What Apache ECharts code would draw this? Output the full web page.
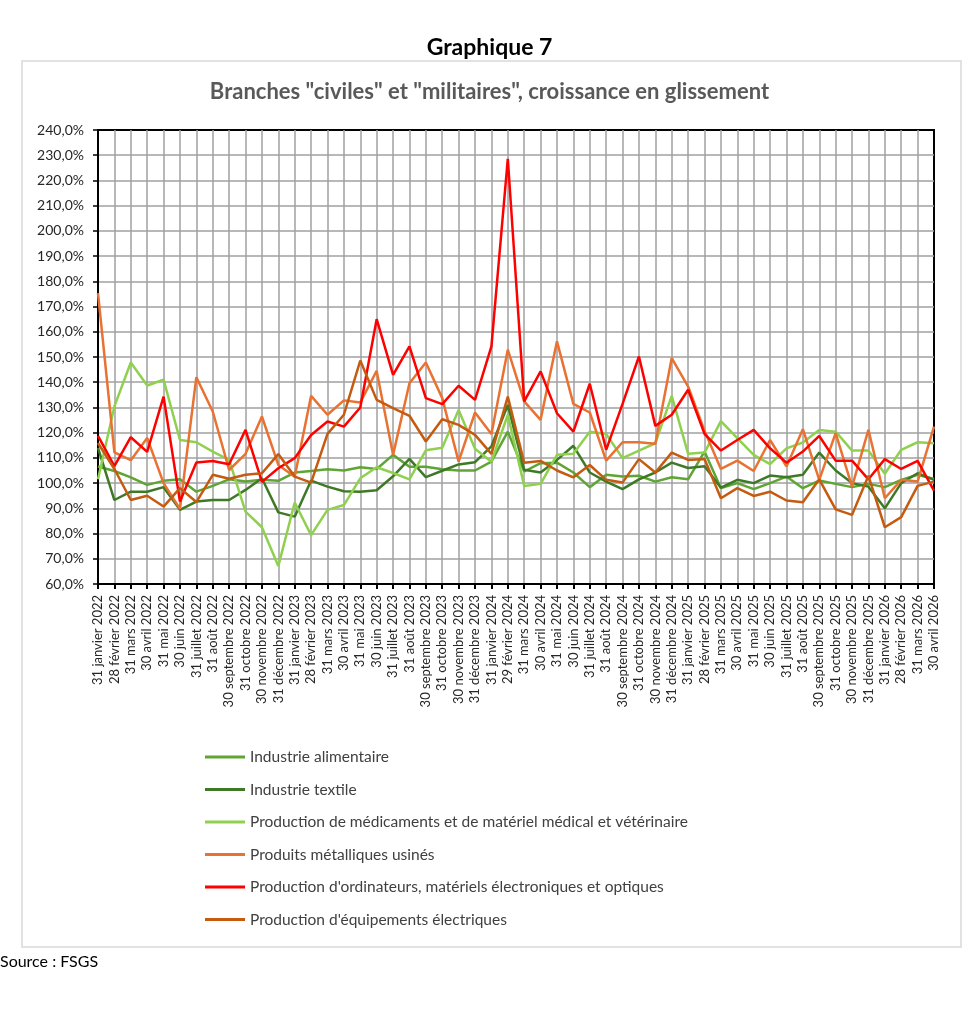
<!DOCTYPE html>
<html>
<head>
<meta charset="utf-8">
<title>Graphique 7</title>
<script src="https://cdn.jsdelivr.net/npm/echarts@6/dist/echarts.min.js"></script>
<style>
  html, body { margin: 0; padding: 0; background: #fff; }
  #chart { width: 979px; height: 1035px; }
</style>
</head>
<body>
<div id="chart"></div>
<script>
// monthly points, Jan 2022 -> Apr 2026
const categories = [
  '31 janvier 2022', '28 février 2022', '31 mars 2022', '30 avril 2022', '31 mai 2022', '30 juin 2022',
  '31 juillet 2022', '31 août 2022', '30 septembre 2022', '31 octobre 2022', '30 novembre 2022', '31 décembre 2022',
  '31 janvier 2023', '28 février 2023', '31 mars 2023', '30 avril 2023', '31 mai 2023', '30 juin 2023',
  '31 juillet 2023', '31 août 2023', '30 septembre 2023', '31 octobre 2023', '30 novembre 2023', '31 décembre 2023',
  '31 janvier 2024', '29 février 2024', '31 mars 2024', '30 avril 2024', '31 mai 2024', '30 juin 2024',
  '31 juillet 2024', '31 août 2024', '30 septembre 2024', '31 octobre 2024', '30 novembre 2024', '31 décembre 2024',
  '31 janvier 2025', '28 février 2025', '31 mars 2025', '30 avril 2025', '31 mai 2025', '30 juin 2025',
  '31 juillet 2025', '31 août 2025', '30 septembre 2025', '31 octobre 2025', '30 novembre 2025', '31 décembre 2025',
  '31 janvier 2026', '28 février 2026', '31 mars 2026', '30 avril 2026'
];

// values in %
const alimentaire = [
  106.6, 104.8, 102.3, 99.3, 100.9, 101.5, 96.6, 98.9, 101.5, 100.6, 101.3, 100.9,
  104.2, 104.8, 105.5, 105.0, 106.3, 105.6, 111.2, 106.5, 106.5, 105.5, 105.0, 105.0,
  108.5, 120.4, 104.6, 107.9, 108.1, 104.2, 98.4, 103.3, 102.6, 102.9, 100.6, 102.3,
  101.5, 112.5, 98.0, 100.0, 97.6, 100.0, 102.6, 98.0, 101.0, 99.7, 98.4, 99.7,
  98.4, 101.3, 103.3, 101.6
];
const textile = [
  114.0, 93.3, 96.6, 96.6, 98.4, 89.4, 92.7, 93.3, 93.3, 97.3, 101.9, 88.4,
  86.7, 101.0, 98.6, 96.8, 96.6, 97.2, 102.7, 109.6, 102.4, 104.9, 107.4, 108.3,
  114.6, 131.0, 105.3, 104.2, 109.2, 114.8, 104.2, 100.6, 97.6, 101.5, 104.2, 108.1,
  106.0, 106.7, 98.2, 101.3, 100.0, 103.0, 102.3, 103.3, 112.1, 105.0, 100.0, 98.6,
  90.0, 100.0, 103.9, 101.3
];
const medicaments = [
  101.5, 130.4, 147.8, 138.7, 141.0, 117.1, 116.2, 112.5, 109.2, 88.7, 82.5, 67.1,
  92.3, 79.4, 89.4, 91.3, 101.9, 106.3, 104.0, 101.5, 113.0, 114.0, 129.0, 113.6,
  108.5, 127.1, 98.9, 99.7, 111.2, 111.6, 120.4, 119.5, 109.9, 112.9, 115.8, 134.6,
  111.6, 112.1, 124.6, 117.8, 111.2, 107.5, 113.8, 116.1, 121.1, 120.4, 112.9, 112.9,
  103.7, 113.2, 116.2, 115.8
];
const metalliques = [
  175.3, 112.2, 109.1, 117.9, 100.0, 89.8, 142.0, 128.4, 105.2, 111.6, 126.4, 107.2,
  102.5, 134.6, 127.1, 132.8, 132.0, 144.5, 111.2, 139.6, 147.8, 133.7, 108.5, 128.0,
  119.5, 152.9, 132.4, 125.1, 156.2, 131.4, 128.0, 108.9, 116.2, 116.2, 115.6, 149.6,
  138.3, 120.8, 105.6, 108.9, 104.8, 117.1, 106.6, 121.4, 101.3, 119.8, 98.6, 121.1,
  94.0, 101.3, 100.6, 122.4
];
const ordinateurs = [
  118.7, 106.7, 118.2, 112.4, 134.3, 92.7, 108.2, 108.8, 107.5, 121.1, 100.5, 105.9,
  109.9, 119.1, 124.4, 122.4, 130.0, 165.0, 142.9, 154.2, 133.7, 131.3, 138.6, 133.0,
  154.2, 228.6, 132.4, 144.3, 127.7, 120.4, 139.4, 113.2, 131.4, 150.2, 122.7, 127.1,
  137.0, 119.5, 112.9, 117.1, 121.1, 113.8, 108.1, 112.5, 118.7, 108.9, 108.9, 101.5,
  109.5, 105.6, 108.8, 97.0
];
const equipements = [
  115.9, 105.6, 93.3, 95.0, 90.7, 98.0, 92.5, 103.3, 101.7, 103.3, 103.9, 111.5,
  102.6, 100.2, 119.5, 127.1, 148.6, 133.0, 129.7, 126.7, 116.5, 125.3, 123.1, 119.1,
  111.6, 134.3, 108.1, 108.8, 105.0, 102.3, 107.2, 101.3, 100.2, 109.5, 104.2, 112.1,
  109.2, 109.6, 94.0, 98.0, 94.9, 96.6, 93.1, 92.4, 101.5, 89.6, 87.4, 102.9,
  82.5, 86.5, 98.9, 100.6
];

const yTicks = { min: 60, max: 240, step: 10 };

const FONT = 'Lato';
const chart = echarts.init(document.getElementById('chart'));

function line(name, data, color) {
  return {
    name: name,
    type: 'line',
    data: data,
    symbol: 'none',
    lineStyle: { width: 2.5, color: color },
    itemStyle: { color: color },
    emphasis: { disabled: true }
  };
}

const option = {
  animation: false,
  backgroundColor: '#fff',
  textStyle: { fontFamily: FONT },
  title: [
    {
      text: 'Graphique 7',
      left: 'center', top: 31,
      textStyle: { fontFamily: FONT, fontSize: 23, fontWeight: 'bold', color: '#000' }
    },
    {
      text: 'Branches "civiles" et "militaires", croissance en glissement',
      left: 'center', top: 76,
      textStyle: { fontFamily: FONT, fontSize: 22, fontWeight: 'bold', color: '#595959' }
    },
    {
      text: 'Source : FSGS',
      left: 0, top: 954, padding: 0,
      textStyle: { fontFamily: FONT, fontSize: 16, fontWeight: 'normal', color: '#000' }
    }
  ],
  graphic: [
    {
      type: 'rect', z: -10, silent: true,
      shape: { x: 22, y: 61, width: 939, height: 886 },
      style: { fill: 'none', stroke: '#d9d9d9', lineWidth: 1.5 }
    }
  ],
  legend: {
    orient: 'vertical',
    left: 200, top: 744,
    icon: 'rect',
    itemWidth: 40, itemHeight: 3,
    itemGap: 16.5,
    textStyle: { fontFamily: FONT, fontSize: 15.5, color: '#404040', lineHeight: 16 },
    data: [
      'Industrie alimentaire',
      'Industrie textile',
      'Production de médicaments et de matériel médical et vétérinaire',
      'Produits métalliques usinés',
      "Production d'ordinateurs, matériels électroniques et optiques",
      "Production d'équipements électriques"
    ]
  },
  grid: {
    left: 98, right: 45, top: 130, bottom: 451,
    show: true, borderColor: '#000', borderWidth: 2
  },
  xAxis: {
    type: 'category',
    data: categories,
    boundaryGap: false,
    axisLine: { lineStyle: { color: '#000', width: 2 } },
    axisTick: { show: true, interval: 0, length: 5, lineStyle: { color: '#000', width: 2 } },
    axisLabel: { interval: 0, rotate: 90, margin: 11, fontFamily: FONT, fontSize: 13, color: '#262626' },
    splitLine: {
      show: true, interval: 0, showMinLine: false, showMaxLine: false,
      lineStyle: { color: '#a0a0a0', width: 1.5 }
    }
  },
  yAxis: {
    type: 'value',
    min: yTicks.min, max: yTicks.max, interval: yTicks.step,
    axisLine: { show: true, lineStyle: { color: '#000', width: 2 } },
    axisTick: { show: true, length: 5, lineStyle: { color: '#000', width: 1.5 } },
    axisLabel: {
      margin: 14, fontFamily: FONT, fontSize: 14, color: '#262626',
      formatter: function (v) { return v.toFixed(1).replace('.', ',') + '%'; }
    },
    splitLine: {
      show: true, showMinLine: false, showMaxLine: false,
      lineStyle: { color: '#a0a0a0', width: 1.5 }
    }
  },
  series: [
    line('Industrie alimentaire', alimentaire, '#5ea535'),
    line('Industrie textile', textile, '#3e7a25'),
    line('Production de médicaments et de matériel médical et vétérinaire', medicaments, '#8fd14f'),
    line('Produits métalliques usinés', metalliques, '#e97132'),
    line("Production d'ordinateurs, matériels électroniques et optiques", ordinateurs, '#ff0000'),
    line("Production d'équipements électriques", equipements, '#c55a11')
  ]
};

chart.setOption(option);
</script>
</body>
</html>
